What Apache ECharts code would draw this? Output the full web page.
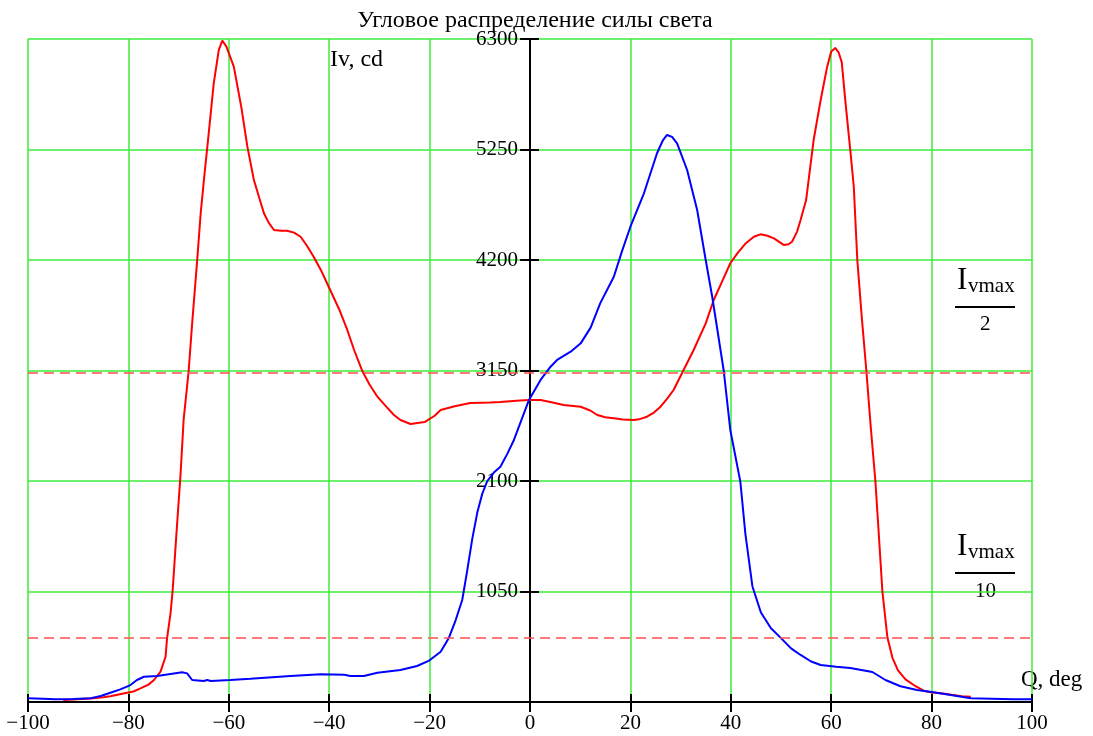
<!DOCTYPE html>
<html>
<head>
<meta charset="utf-8">
<script src="https://cdn.jsdelivr.net/npm/echarts@6/dist/echarts.min.js"></script>
<style>
html,body{margin:0;padding:0;background:#fff;}
#chart{width:1093px;height:736px;}
</style>
</head>
<body>
<div id="chart"></div>
<script>
// ---- data ----
const titleText = 'Угловое распределение силы света';
const xTicks = { min: -100, max: 100, step: 20 };
const yTicks = { min: 0, max: 6300, step: 1050 };
const levelValues = [3133, 612]; // Ivmax/2, Ivmax/10

const redX = [-93,-90,-87,-85,-83.6,-81,-79,-77.6,-76,-74.9,-73.6,-72.6,-72.3,-71.6,-71.2,-70.5,-69.6,-69.0,-68.0,-67.3,-66.3,-65.6,-65.0,-64.0,-63.0,-62.0,-61.3,-60.5,-59.0,-57.5,-56.3,-55.0,-54.0,-53.0,-52,-51.0,-49.5,-48.4,-47,-45.7,-44.5,-43.1,-41.5,-40.1,-38,-36.4,-35,-33.4,-32,-30.4,-28.5,-27.1,-25.8,-23.8,-21,-19,-17.8,-15,-11.9,-8,-5.9,-2,0,2.1,4.5,6.7,10.1,12,13.4,15,16.7,18.5,20.7,22,23.3,24.7,26.0,27.3,28.6,30.5,32.6,35.0,36.6,38.3,39.9,41.3,43,44.6,45.9,47.3,48.6,50.6,51.5,52.2,53.2,53.9,55.0,56.5,57.9,59.2,60.0,60.8,61.5,62.1,62.8,63.8,64.5,65.2,66.1,67.0,67.9,68.8,69.5,70.2,71.2,72.2,73.3,74.8,76.8,78.4,80,81.8,84,86,87.8];
const redY = [20,25,35,45,55,80,100,130,165,209,288,430,605,845,1050,1550,2173,2680,3145,3598,4197,4644,4940,5404,5879,6195,6284,6230,6037,5650,5277,4960,4801,4644,4550,4485,4478,4478,4460,4421,4340,4231,4090,3946,3730,3535,3340,3145,3020,2901,2800,2727,2680,2642,2660,2720,2775,2810,2841,2845,2851,2865,2870,2870,2845,2822,2806,2770,2727,2705,2696,2685,2680,2690,2711,2750,2806,2880,2965,3145,3345,3598,3820,4000,4169,4263,4360,4421,4444,4430,4406,4342,4350,4374,4470,4580,4770,5340,5720,6037,6180,6215,6170,6080,5720,5245,4896,4200,3650,3150,2600,2100,1580,1050,612,420,300,215,150,107,90,83,68,55,50];

const blueX = [-100,-97,-94.5,-91,-87.5,-85.5,-83.6,-81.6,-79.6,-78.3,-76.9,-74.3,-71.6,-69.3,-68.3,-67.3,-65.0,-64.3,-63.6,-59.7,-55.7,-47.7,-41.7,-37,-35.8,-33.1,-30.4,-25.8,-22.5,-20.2,-17.8,-16.2,-14.8,-13.5,-12.5,-11.5,-10.5,-9.5,-8.5,-7.2,-5.9,-4.5,-3.2,-1.7,-0.2,2.1,4.1,5.4,8.1,10.1,12.1,14.0,16.7,18.3,20.0,22.7,25.3,26.5,27.3,28.3,29.3,31.3,33.3,35.0,36.3,38.6,39.9,41.9,42.9,44.3,46,48,49.9,52,53.9,56,57.9,61,63.8,66,68.2,70.8,73.8,77.1,80.4,83.8,87.8,92,96.3,100];
const blueY = [35,30,25,28,35,57,88,120,161,209,240,247,266,282,272,209,200,209,200,209,221,247,263,258,247,247,278,304,342,390,478,605,779,969,1250,1550,1800,1980,2100,2180,2236,2360,2490,2680,2870,3060,3186,3250,3329,3408,3560,3790,4041,4280,4516,4834,5214,5340,5388,5370,5309,5055,4675,4200,3851,3145,2585,2094,1600,1100,850,700,612,510,447,385,352,335,323,305,285,209,150,114,92,67,35,30,25,25];

// ---- chart ----
const serif = 'Liberation Serif';
const green = '#3cec3c';
const zip = (xs, ys) => xs.map((x, i) => [x, ys[i]]);
const minusFmt = v => (v < 0 ? '\u2212' + Math.abs(v) : String(v));

const GRID = { left: 28, right: 61, top: 39, bottom: 34 };
const W = 1093;
// shift the y axis from the grid's left edge to x = 0 (axis placement)
const plotW = W - GRID.left - GRID.right;
const yAxisOffset = -plotW * (0 - xTicks.min) / (xTicks.max - xTicks.min);

const chart = echarts.init(document.getElementById('chart'), null, { renderer: 'canvas' });

const xBase = { type: 'value', min: xTicks.min, max: xTicks.max, interval: xTicks.step, position: 'bottom' };
const yBase = { type: 'value', min: yTicks.min, max: yTicks.max, interval: yTicks.step, position: 'left', offset: yAxisOffset };

chart.setOption({
  animation: false,
  backgroundColor: '#fff',
  title: {
    text: titleText, left: GRID.left - yAxisOffset, top: 4, textAlign: 'center',
    textStyle: { fontFamily: serif, fontSize: 24, fontWeight: 'normal', color: '#000' }
  },
  grid: Object.assign({ containLabel: false, outerBoundsMode: 'none' }, GRID),
  xAxis: [
    Object.assign({}, xBase, {
      axisLine: { onZero: false, lineStyle: { color: '#000', width: 2 } },
      axisTick: { show: true, length: 10, lineStyle: { color: '#000', width: 2 } },
      axisLabel: { fontFamily: serif, fontSize: 21, color: '#000', margin: 11, formatter: minusFmt },
      splitLine: { show: true, lineStyle: { color: green, width: 1.5 } }
    }),
    Object.assign({}, xBase, {
      axisLine: { show: false, onZero: false },
      axisTick: { show: true, inside: true, length: 8, lineStyle: { color: '#000', width: 2 } },
      axisLabel: { show: false },
      splitLine: { show: false }
    })
  ],
  yAxis: [
    Object.assign({}, yBase, {
      axisLine: { show: true, onZero: false, lineStyle: { color: '#000', width: 2 } },
      axisTick: { show: true, length: 10, lineStyle: { color: '#000', width: 2 } },
      axisLabel: { fontFamily: serif, fontSize: 21, color: '#000', margin: 12, padding: [6, 0, 0, 0], showMinLabel: false, formatter: v => String(v) },
      splitLine: { show: true, lineStyle: { color: green, width: 1.5 } }
    }),
    Object.assign({}, yBase, {
      axisLine: { show: false, onZero: false },
      axisTick: { show: true, inside: true, length: 9, lineStyle: { color: '#000', width: 2 } },
      axisLabel: { show: false },
      splitLine: { show: false }
    })
  ],
  series: [
    {
      type: 'line', name: 'red', data: zip(redX, redY), xAxisIndex: 0, yAxisIndex: 0,
      showSymbol: false, symbol: 'none', smooth: false, z: 3,
      lineStyle: { color: '#ff0000', width: 2 },
      markLine: {
        silent: true, symbol: 'none', label: { show: false },
        lineStyle: { color: '#ff5050', type: [10, 6], width: 1.5 },
        data: levelValues.map(v => ({ yAxis: v }))
      }
    },
    {
      type: 'line', name: 'blue', data: zip(blueX, blueY), xAxisIndex: 0, yAxisIndex: 0,
      showSymbol: false, symbol: 'none', smooth: false, z: 4,
      lineStyle: { color: '#0000ff', width: 2 }
    }
  ],
  graphic: [
    { type: 'text', left: 330, top: 48, style: { text: 'Iv, cd', font: '24px "Liberation Serif"', fill: '#000' } },
    { type: 'text', left: 1021, top: 668, style: { text: 'Q, deg', font: '23px "Liberation Serif"', fill: '#000' } },
    // Ivmax / 2
    { type: 'text', left: 957, top: 265, style: { text: 'I', font: '31px "Liberation Serif"', fill: '#000' } },
    { type: 'text', left: 968, top: 276, style: { text: 'vmax', font: '21px "Liberation Serif"', fill: '#000' } },
    { type: 'line', shape: { x1: 955, y1: 307, x2: 1015, y2: 307 }, style: { stroke: '#000', lineWidth: 2 } },
    { type: 'text', left: 980, top: 314, style: { text: '2', font: '21px "Liberation Serif"', fill: '#000' } },
    // Ivmax / 10
    { type: 'text', left: 957, top: 531, style: { text: 'I', font: '31px "Liberation Serif"', fill: '#000' } },
    { type: 'text', left: 968, top: 542, style: { text: 'vmax', font: '21px "Liberation Serif"', fill: '#000' } },
    { type: 'line', shape: { x1: 955, y1: 573, x2: 1015, y2: 573 }, style: { stroke: '#000', lineWidth: 2 } },
    { type: 'text', left: 975, top: 581, style: { text: '10', font: '21px "Liberation Serif"', fill: '#000' } }
  ]
});
</script>
</body>
</html>
